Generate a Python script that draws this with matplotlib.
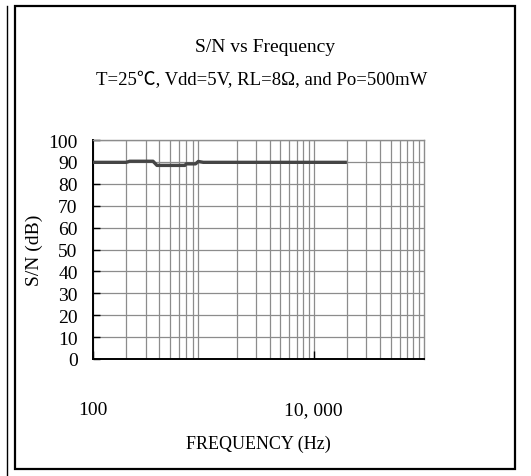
import matplotlib
matplotlib.use('Agg')
import matplotlib.pyplot as plt
from matplotlib.patches import Rectangle
from matplotlib.lines import Line2D
from matplotlib.ticker import LogLocator, NullFormatter

plt.rcParams['font.family'] = ['Liberation Serif', 'Noto Sans CJK SC', 'DejaVu Sans']

# S/N curve
freq = [100, 200, 215, 350, 380, 680, 700, 850, 900, 1000, 20000]
snr = [89.8, 89.8, 90.3, 90.3, 88.4, 88.4, 89.1, 89.1, 90.2, 89.8, 89.8]

y_ticks = [0, 10, 20, 30, 40, 50, 60, 70, 80, 90, 100]
x_ticks = [100, 10000]
x_tick_labels = ['100', '10, 000']

W, H = 531, 477
fig = plt.figure(figsize=(W / 100, H / 100), dpi=100)
ax = fig.add_axes([93 / W, 1 - 360 / H, 331 / W, 219 / H])

ax.plot(freq, snr, color='#454545', lw=2.4, solid_capstyle='butt', zorder=3)

ax.set_xscale('log')
ax.set_xlim(100, 100000)
ax.set_ylim(0, 100)
ax.xaxis.set_major_locator(LogLocator(base=10, numticks=10))
ax.xaxis.set_minor_locator(LogLocator(base=10, subs=range(2, 10), numticks=20))
ax.xaxis.set_minor_formatter(NullFormatter())
ax.grid(True, which='both', axis='x', color='#8c8c8c', lw=0.9)
ax.grid(True, which='major', axis='y', color='#8c8c8c', lw=0.9)
ax.set_axisbelow(True)

ax.set_xticks(x_ticks)
ax.set_xticklabels(x_tick_labels)
ax.set_yticks(y_ticks)
ax.tick_params(axis='x', which='major', direction='in', length=6, width=1,
               pad=30, labelsize=14)
ax.tick_params(axis='x', which='minor', length=0)
ax.tick_params(axis='y', direction='in', length=5, width=1, pad=11,
               labelsize=14)

for s in ['top', 'right']:
    ax.spines[s].set_color('#8c8c8c')
    ax.spines[s].set_linewidth(1)
for s in ['left', 'bottom']:
    ax.spines[s].set_color('black')
    ax.spines[s].set_linewidth(1.4)

ax.set_xlabel('FREQUENCY (Hz)', fontsize=13, labelpad=12)
ax.set_ylabel('S/N (dB)', fontsize=14, labelpad=4)

fig.text(265 / W, 1 - 47 / H, 'S/N vs Frequency', ha='center', va='center',
         fontsize=14)
fig.text(262 / W, 1 - 80 / H, 'T=25℃, Vdd=5V, RL=8Ω, and Po=500mW',
         ha='center', va='center', fontsize=13.5)

# outer frame
fig.patches.append(Rectangle((15 / W, 1 - 470 / H), 500 / W, 463 / H,
                             transform=fig.transFigure, fill=False,
                             edgecolor='black', lw=1.6))
fig.lines.append(Line2D([7 / W, 7 / W], [0, 1 - 7 / H],
                        transform=fig.transFigure, color='black', lw=1))

fig.savefig('out.png', dpi=100)
